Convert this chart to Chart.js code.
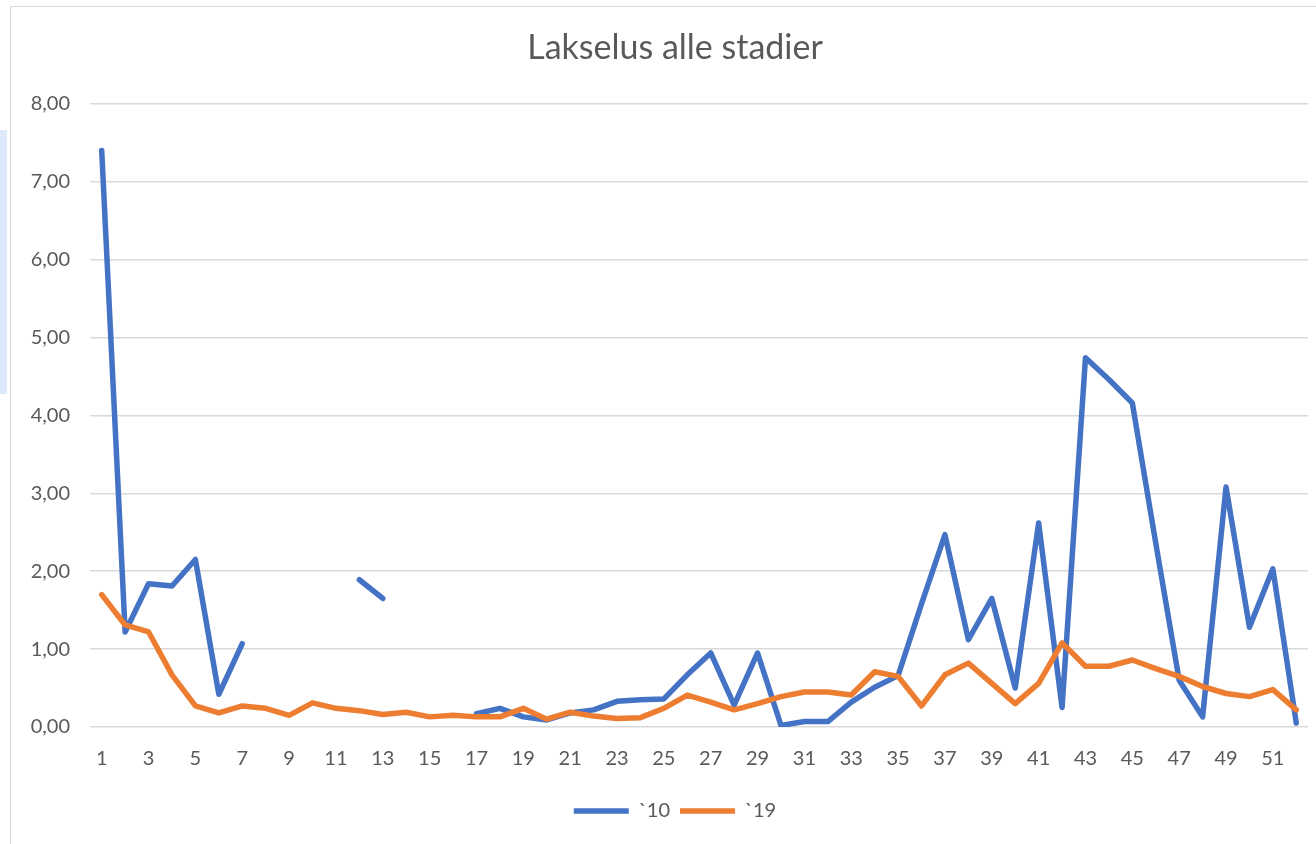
<!DOCTYPE html>
<html>
<head>
<meta charset="utf-8">
<script src="https://cdn.jsdelivr.net/npm/chart.js@4/dist/chart.umd.min.js"></script>
<style>
  html, body { margin: 0; padding: 0; background: #ffffff; overflow: hidden; }
  #wrap { position: relative; width: 1316px; height: 844px; overflow: hidden; }
  #frame { position: absolute; left: 10px; top: 6px; width: 1330px; height: 860px; border: 1px solid #d9d9d9; box-sizing: border-box; }
  #side { position: absolute; left: 0; top: 130px; width: 7px; height: 264px; background: #dce9fb; }
  canvas { position: absolute; left: 0; top: 0; }
</style>
</head>
<body>
<div id="wrap">
  <div id="frame"></div>
  <div id="side"></div>
  <canvas id="c" width="1350" height="844"></canvas>
</div>
<script>
const weeks = [];
for (let i = 1; i <= 52; i++) weeks.push(String(i));

const series10 = [7.40, 1.22, 1.84, 1.81, 2.15, 0.42, 1.07, null, null, null,
  null, 1.89, 1.65, null, null, null, 0.17, 0.24, 0.13, 0.09,
  0.18, 0.22, 0.33, 0.35, 0.36, 0.67, 0.95, 0.28, 0.95, 0.02,
  0.07, 0.07, 0.32, 0.51, 0.66, 1.58, 2.47, 1.12, 1.65, 0.50,
  2.62, 0.25, 4.74, 4.46, 4.16, 2.36, 0.60, 0.13, 3.08, 1.28,
  2.03, 0.05];

const series19 = [1.70, 1.31, 1.22, 0.67, 0.27, 0.18, 0.27, 0.24, 0.15, 0.31,
  0.24, 0.21, 0.16, 0.19, 0.13, 0.15, 0.13, 0.13, 0.24, 0.10,
  0.19, 0.14, 0.11, 0.12, 0.24, 0.41, 0.32, 0.22, 0.30, 0.39,
  0.45, 0.45, 0.41, 0.71, 0.65, 0.27, 0.67, 0.82, 0.56, 0.30,
  0.56, 1.08, 0.78, 0.78, 0.86, 0.75, 0.65, 0.52, 0.43, 0.39,
  0.48, 0.22];

const seriesNames = ['`10', '`19'];
const titleText = 'Lakselus alle stadier';

const textColor = '#595959';
const gridColor = '#d9d9d9';
const fontFamily = 'Lato, "Open Sans", sans-serif';

new Chart(document.getElementById('c'), {
  type: 'line',
  data: {
    labels: weeks,
    datasets: [
      { label: seriesNames[0], data: series10, borderColor: '#4472C4', backgroundColor: '#4472C4',
        borderWidth: 5.5, pointRadius: 0, pointHoverRadius: 0, tension: 0, spanGaps: false,
        borderCapStyle: 'round', borderJoinStyle: 'round', order: 1 },
      { label: seriesNames[1], data: series19, borderColor: '#ED7D31', backgroundColor: '#ED7D31',
        borderWidth: 5.5, pointRadius: 0, pointHoverRadius: 0, tension: 0, spanGaps: false,
        borderCapStyle: 'round', borderJoinStyle: 'round', order: 0 }
    ]
  },
  options: {
    responsive: false,
    animation: false,
    layout: { padding: { left: 0, right: 0, top: 0, bottom: 13 } },
    plugins: {
      tooltip: { enabled: false },
      title: {
        display: true, text: titleText, color: textColor,
        font: { family: fontFamily, size: 34, weight: 'normal' },
        padding: { top: 28, bottom: 35 }
      },
      legend: {
        position: 'bottom',
        labels: {
          color: textColor,
          font: { family: fontFamily, size: 20 },
          usePointStyle: true, pointStyle: 'line', pointStyleWidth: 55,
          padding: 10,
          sort: (a, b) => a.datasetIndex - b.datasetIndex
        }
      }
    },
    scales: {
      x: {
        offset: true,
        grid: { display: false, drawTicks: false },
        border: { display: false },
        afterFit: (s) => { s.height = 64; },
        ticks: {
          autoSkip: false, maxRotation: 0, color: textColor, padding: 20,
          font: { family: fontFamily, size: 20 },
          callback: function (v, i) { return i % 2 === 0 ? this.getLabelForValue(v) : ''; }
        }
      },
      y: {
        min: 0, max: 8,
        afterFit: (s) => { s.width = 90; },
        grid: { color: gridColor, lineWidth: 1.5, drawTicks: false },
        border: { display: false },
        ticks: {
          stepSize: 1, color: textColor, padding: 20,
          font: { family: fontFamily, size: 20 },
          callback: (v) => v.toFixed(2).replace('.', ',')
        }
      },
      yR: {
        type: 'linear', position: 'right', min: 0, max: 8,
        afterFit: (s) => { s.width = 42; },
        grid: { display: false, drawTicks: false },
        border: { display: false },
        ticks: { display: false }
      }
    }
  }
});
</script>
</body>
</html>
